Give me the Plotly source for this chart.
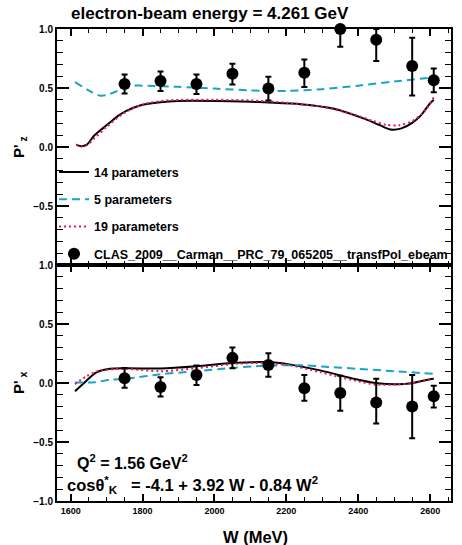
import plotly.graph_objects as go

# ---------------- data ----------------
W_data = [1750, 1850, 1950, 2050, 2150, 2250, 2350, 2450, 2550, 2610]

# P'z (upper panel) data points with asymmetric visible error bars
Pz = [0.534, 0.56, 0.534, 0.62, 0.495, 0.63, 1.0, 0.908, 0.686, 0.565]
Pz_err_up = [0.08, 0.08, 0.08, 0.085, 0.10, 0.112, 0.0, 0.092, 0.24, 0.10]
Pz_err_dn = [0.08, 0.085, 0.085, 0.09, 0.10, 0.122, 0.15, 0.18, 0.25, 0.10]

# P'x (lower panel) data points
Px = [0.04, -0.034, 0.068, 0.213, 0.153, -0.045, -0.085, -0.165, -0.2, -0.113]
Px_err_up = [0.088, 0.082, 0.08, 0.088, 0.10, 0.113, 0.147, 0.2, 0.268, 0.09]
Px_err_dn = [0.08, 0.08, 0.085, 0.088, 0.10, 0.105, 0.15, 0.178, 0.268, 0.094]

# model curves, upper panel (P'z)
Wz_14 = [1615, 1630, 1645, 1665, 1690, 1710, 1735, 1755, 1795, 1850, 1900, 2000,
         2100, 2150, 2240, 2330, 2420, 2460, 2490, 2520, 2550, 2575, 2597, 2610]
Pz_14 = [0.02, 0.006, 0.02, 0.095, 0.16, 0.21, 0.27, 0.306, 0.354, 0.38, 0.39, 0.39,
         0.383, 0.377, 0.363, 0.326, 0.236, 0.185, 0.148, 0.158, 0.205, 0.27, 0.36, 0.40]

Wz_19 = [1615, 1630, 1645, 1665, 1700, 1750, 1800, 1870, 2000, 2100, 2200, 2300,
         2385, 2440, 2478, 2515, 2552, 2589, 2610]
Pz_19 = [0.02, 0.005, 0.015, 0.07, 0.17, 0.29, 0.36, 0.395, 0.40, 0.395, 0.375, 0.34,
         0.278, 0.222, 0.188, 0.185, 0.222, 0.32, 0.42]

Wz_5 = [1612, 1650, 1682, 1700, 1723, 1746, 1775, 1800, 1900, 2000, 2100, 2200,
        2300, 2400, 2500, 2610]
Pz_5 = [0.55, 0.48, 0.435, 0.44, 0.466, 0.50, 0.52, 0.52, 0.51, 0.495, 0.48, 0.475,
        0.49, 0.52, 0.555, 0.59]

# model curves, lower panel (P'x)
Wx_14 = [1612, 1644, 1672, 1709, 1755, 1850, 1950, 2050, 2112, 2150, 2204, 2297,
         2390, 2454, 2510, 2547, 2603, 2610]
Px_14 = [-0.07, 0.02, 0.09, 0.12, 0.125, 0.123, 0.142, 0.17, 0.176, 0.178, 0.16, 0.105,
         0.034, -0.003, -0.011, -0.003, 0.034, 0.036]

Wx_19 = [1612, 1644, 1681, 1755, 1850, 1950, 2050, 2120, 2204, 2297, 2390, 2454,
         2510, 2547, 2603, 2610]
Px_19 = [-0.01, 0.057, 0.105, 0.119, 0.10, 0.125, 0.16, 0.17, 0.153, 0.09, 0.02,
         -0.014, -0.011, -0.003, 0.034, 0.036]

Wx_5 = [1612, 1667, 1709, 1755, 1850, 1950, 2050, 2112, 2200, 2250, 2300, 2400,
        2500, 2610]
Px_5 = [0.005, 0.006, 0.028, 0.037, 0.074, 0.10, 0.128, 0.142, 0.15, 0.15, 0.14,
        0.12, 0.10, 0.078]

x_range = [1562, 2658]
y_range = [-1.0, 1.0]

title_text = "electron-beam energy = 4.261 GeV"
legend_names = ["14 parameters", "5 parameters", "19 parameters",
                "CLAS_2009__Carman__PRC_79_065205__transfPol_ebeam"]

# ---------------- styles ----------------
FONT = "Liberation Sans, Arial, Helvetica, sans-serif"
BLACK = "#000000"
CYAN = "#1aa3c3"
RED = "#e8194f"

fig = go.Figure()

def add_curves(W14, P14, W5, P5, W19, P19, xa, ya, show):
    fig.add_trace(go.Scatter(x=W14, y=P14, mode="lines", line=dict(color=BLACK, width=2, shape="spline", smoothing=0.8),
                             name=legend_names[0], showlegend=show, legendgroup="g14",
                             xaxis=xa, yaxis=ya))
    fig.add_trace(go.Scatter(x=W5, y=P5, mode="lines", line=dict(color=CYAN, width=2, dash="8px,5px", shape="spline", smoothing=0.8),
                             name=legend_names[1], showlegend=show, legendgroup="g5",
                             xaxis=xa, yaxis=ya))
    fig.add_trace(go.Scatter(x=W19, y=P19, mode="lines", line=dict(color=RED, width=2, dash="2px,3px", shape="spline", smoothing=0.8),
                             name=legend_names[2], showlegend=show, legendgroup="g19",
                             xaxis=xa, yaxis=ya))

def add_data(P, up, dn, xa, ya, show):
    fig.add_trace(go.Scatter(x=W_data, y=P, mode="markers",
                             marker=dict(color=BLACK, size=12, symbol="circle"),
                             error_y=dict(type="data", symmetric=False, array=up, arrayminus=dn,
                                          color=BLACK, thickness=2, width=3),
                             cliponaxis=False,
                             name=legend_names[3], showlegend=show, legendgroup="gdata",
                             xaxis=xa, yaxis=ya))

add_curves(Wz_14, Pz_14, Wz_5, Pz_5, Wz_19, Pz_19, "x", "y", True)
add_data(Pz, Pz_err_up, Pz_err_dn, "x", "y", True)
add_curves(Wx_14, Px_14, Wx_5, Px_5, Wx_19, Px_19, "x2", "y2", False)
add_data(Px, Px_err_up, Px_err_dn, "x2", "y2", False)

xcommon = dict(range=x_range, showgrid=False, zeroline=False, showline=True, linewidth=2,
               linecolor=BLACK, mirror="allticks", ticks="inside", ticklen=7, tickwidth=1.5,
               tickcolor=BLACK, tick0=1600, dtick=200,
               minor=dict(ticks="inside", ticklen=4, tickwidth=1.2, tickcolor=BLACK,
                          tickmode="linear", tick0=1600, dtick=50),
               tickfont=dict(family=FONT, size=9, color=BLACK, weight="bold"))
ycommon = dict(range=y_range, showgrid=False, zeroline=False, showline=True, linewidth=2,
               linecolor=BLACK, mirror="allticks", ticks="inside", ticklen=12, tickwidth=1.5,
               tickcolor=BLACK, tickformat=".1f",
               minor=dict(ticks="inside", ticklen=6, tickwidth=1.2, tickcolor=BLACK,
                          tickmode="linear", tick0=0, dtick=0.1),
               tickfont=dict(family=FONT, size=10, color=BLACK, weight="bold"))

fig.update_layout(
    width=462, height=545,
    margin=dict(l=57, r=11, t=29, b=44, autoexpand=False),
    paper_bgcolor="white", plot_bgcolor="white",
    font=dict(family=FONT, color=BLACK),
    xaxis=dict(xcommon, anchor="y", showticklabels=False, domain=[0, 1]),
    xaxis2=dict(xcommon, anchor="y2", showticklabels=True, domain=[0, 1]),
    yaxis=dict(ycommon, anchor="x", domain=[0.5, 1.0], tickmode="array",
               tickvals=[-0.5, 0.0, 0.5, 1.0]),
    yaxis2=dict(ycommon, anchor="x2", domain=[0.0, 0.5], tickmode="linear", tick0=-1, dtick=0.5),
    showlegend=True,
    legend=dict(x=-0.0076, y=0.728, xanchor="left", yanchor="top",
                bgcolor="rgba(0,0,0,0)", borderwidth=0,
                traceorder="grouped", tracegroupgap=8,
                font=dict(family=FONT, size=12.5, color=BLACK, weight="bold")),
)

ann = [
    dict(text="<b>" + title_text + "</b>", x=0.388, y=1.0318, xref="paper", yref="paper",
         xanchor="center", yanchor="middle", showarrow=False, font=dict(family=FONT, size=17)),
    dict(text="<b>W (MeV)</b>", x=0.505, y=-0.0763, xref="paper", yref="paper",
         xanchor="center", yanchor="middle", showarrow=False, font=dict(family=FONT, size=16.5)),
    dict(text="<b>P'<sub> z</sub></b>", x=-0.0964, y=0.75, xref="paper", yref="paper",
         xanchor="center", yanchor="middle", textangle=-90, showarrow=False, font=dict(family=FONT, size=15)),
    dict(text="<b>P'<sub> x</sub></b>", x=-0.0964, y=0.25, xref="paper", yref="paper",
         xanchor="center", yanchor="middle", textangle=-90, showarrow=False, font=dict(family=FONT, size=15)),
    dict(text="<b>Q<sup>2</sup> = 1.56 GeV<sup>2</sup></b>", x=0.0457, y=0.083, xref="paper", yref="paper",
         xanchor="left", yanchor="middle", showarrow=False, font=dict(family=FONT, size=16)),
    dict(text="<b>cosθ<sup>*</sup><sub>K</sub>   = -4.1 + 3.92 W - 0.84 W<sup>2</sup></b>", x=0.0203, y=0.033,
         xref="paper", yref="paper", xanchor="left", yanchor="middle", showarrow=False,
         font=dict(family=FONT, size=16.5)),
]
fig.update_layout(annotations=ann)

fig.write_html("out.html")
